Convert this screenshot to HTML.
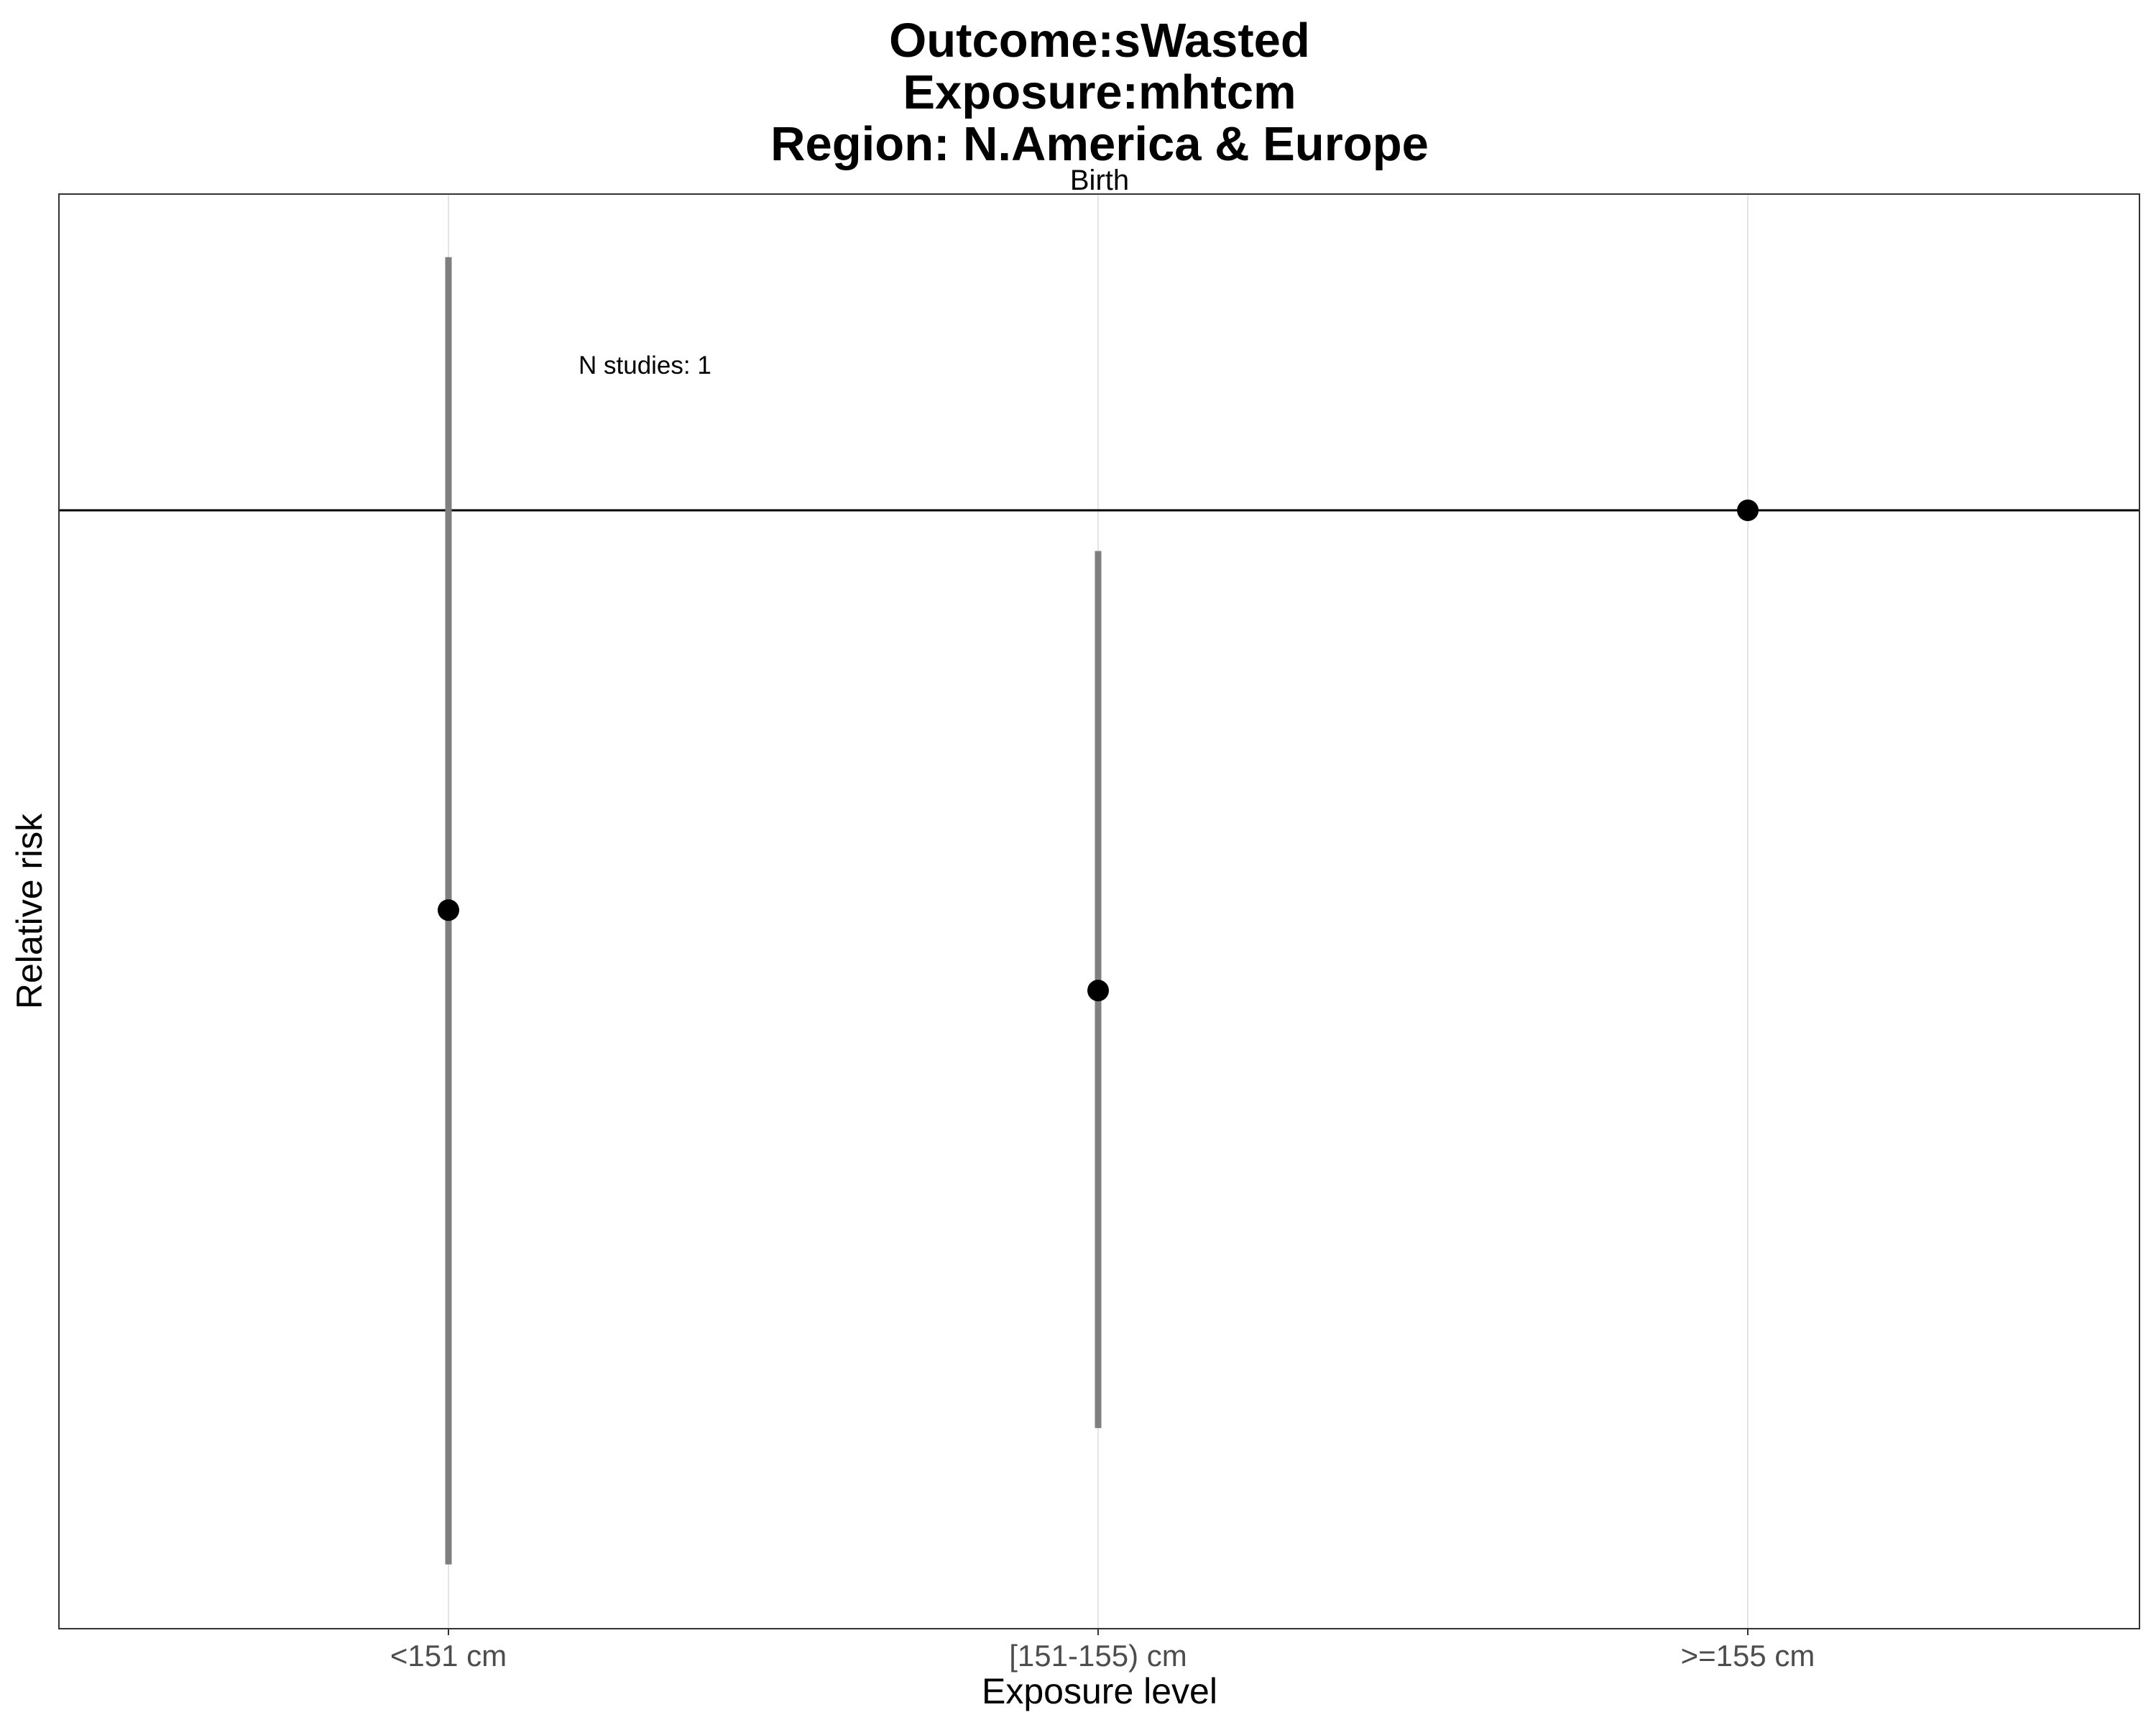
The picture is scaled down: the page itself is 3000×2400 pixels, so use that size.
<!DOCTYPE html>
<html><head><meta charset="utf-8">
<style>
html,body{margin:0;padding:0;background:#fff;}
svg{display:block;font-family:"Liberation Sans",sans-serif;}
</style></head>
<body>
<svg id="chart" width="3000" height="2400" viewBox="0 0 3000 2400">
<g font-weight="bold" font-size="67" text-anchor="middle" fill="#000">
<text x="1530" y="79">Outcome:sWasted</text>
<text x="1530" y="151">Exposure:mhtcm</text>
<text x="1530" y="223">Region: N.America &amp; Europe</text>
</g>
<text x="1530" y="264" font-size="40" text-anchor="middle">Birth</text>
<g id="grid"></g>
<g id="marks"></g>
<rect x="82" y="270" width="2895" height="1996" fill="none" stroke="#333" stroke-width="2"/>
<text x="805" y="520" font-size="35">N studies: 1</text>
<g id="xticks" font-size="42" fill="#4d4d4d" text-anchor="middle"></g>
<text x="1530" y="2370" font-size="50" text-anchor="middle">Exposure level</text>
<text x="0" y="0" font-size="50" text-anchor="middle" transform="translate(58,1268) rotate(-90)">Relative risk</text>
</svg>
<script>
const categories = ["<151 cm", "[151-155) cm", ">=155 cm"];
const rr = [0.539, 0.476, 1.0];
const ciLower = [0.196, 0.242, null];
const ciUpper = [1.479, 0.939, null];
const refValue = 1;

const NS = "http://www.w3.org/2000/svg";
const px0 = 82, px1 = 2977, py0 = 270, py1 = 2266;
function xScale(i){ return 624 + i * ((2432 - 624) / (categories.length - 1)); }
function yScale(v){ return 710 - 900 * Math.log(v / refValue); }
function mk(tag, attrs, parent){ const e = document.createElementNS(NS, tag); for (const k in attrs) e.setAttribute(k, attrs[k]); parent.appendChild(e); return e; }

const grid = document.getElementById('grid');
const marks = document.getElementById('marks');
const xt = document.getElementById('xticks');
categories.forEach((c, i) => {
  const x = xScale(i);
  const g = mk('line', {x1:x, x2:x, y1:py0, y2:py1, stroke:'#e5e5e5', 'stroke-width':2}, grid);
  
  
  const t = mk('line', {x1:x, x2:x, y1:py1, y2:py1+9, stroke:'#333', 'stroke-width':2}, xt);
  
  
  const l = mk('text', {x:x, y:2318}, xt);
  l.textContent = c;
  
  
});
const ref = mk('line', {x1:px0, x2:px1, y1:yScale(refValue), y2:yScale(refValue), stroke:'#000', 'stroke-width':3}, marks);


categories.forEach((c, i) => {
  const x = xScale(i);
  if (ciLower[i] != null) {
    const b = mk('line', {x1:x, x2:x, y1:yScale(ciUpper[i]), y2:yScale(ciLower[i]), stroke:'#7f7f7f', 'stroke-width':9}, marks);
    
    
  }
  const p = mk('circle', {cx:x, cy:yScale(rr[i]), r:15, fill:'#000'}, marks);
  
  
});
</script>
</body></html>
